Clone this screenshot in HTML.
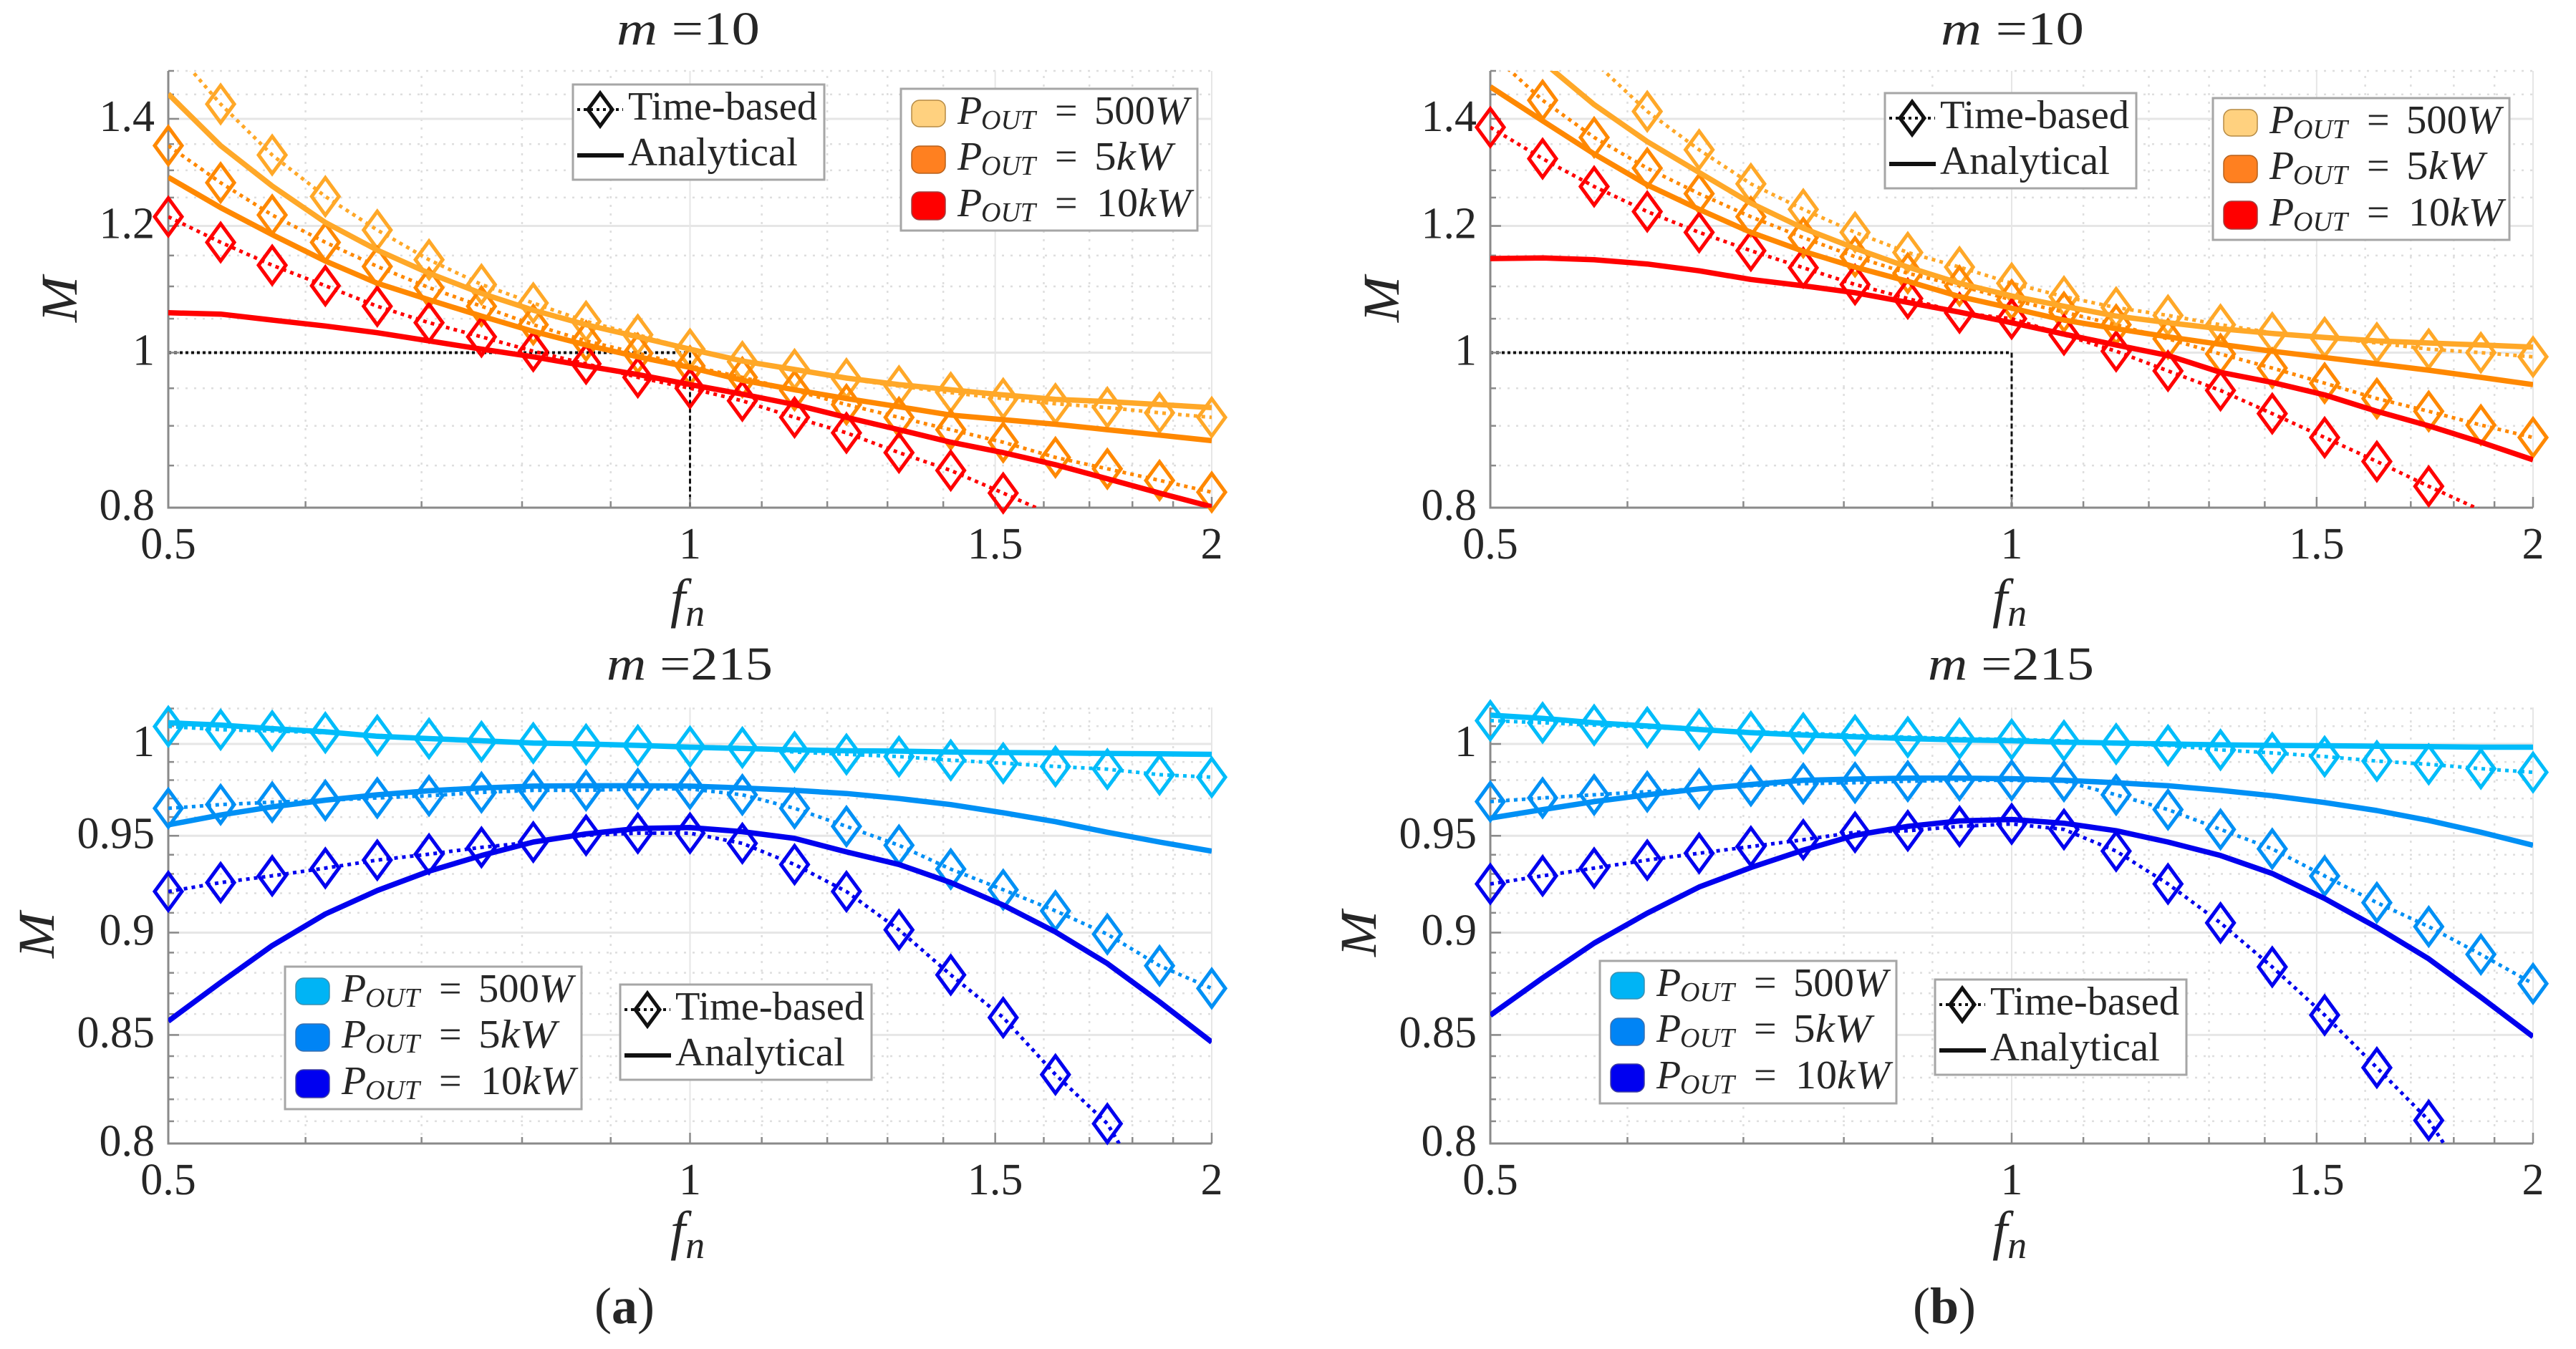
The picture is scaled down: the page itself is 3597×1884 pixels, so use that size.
<!DOCTYPE html>
<html lang="en">
<head>
<meta charset="utf-8">
<title>Voltage gain M versus normalized frequency</title>
<style>
html,body{margin:0;padding:0;background:#fff;}
svg{display:block;}
text{font-family:"Liberation Serif",serif;fill:#262626;}
.it{font-style:italic;}
.tick{font-size:62px;}
.lg{font-size:56px;}
.sub{font-size:38px;font-style:italic;}
</style>
</head>
<body>
<svg id="chart" xmlns="http://www.w3.org/2000/svg" width="3597" height="1884" viewBox="0 0 3597 1884">
<rect width="3597" height="1884" fill="#fff"/>
<g id="plots"></g>

<text x="961" y="62" font-size="66" text-anchor="middle" textLength="200" lengthAdjust="spacingAndGlyphs"><tspan class="it">m</tspan> =10</text>
<text x="2810" y="62" font-size="66" text-anchor="middle" textLength="200" lengthAdjust="spacingAndGlyphs"><tspan class="it">m</tspan> =10</text>
<text x="963" y="949" font-size="66" text-anchor="middle" textLength="232" lengthAdjust="spacingAndGlyphs"><tspan class="it">m</tspan> =215</text>
<text x="2808" y="949" font-size="66" text-anchor="middle" textLength="232" lengthAdjust="spacingAndGlyphs"><tspan class="it">m</tspan> =215</text>

<text x="936" y="861" font-size="76" class="it">f<tspan font-size="54" dy="13">n</tspan></text>
<text x="2782" y="861" font-size="76" class="it">f<tspan font-size="54" dy="13">n</tspan></text>
<text x="936" y="1744" font-size="76" class="it">f<tspan font-size="54" dy="13">n</tspan></text>
<text x="2782" y="1744" font-size="76" class="it">f<tspan font-size="54" dy="13">n</tspan></text>

<text transform="translate(107,418) rotate(-90)" font-size="72" class="it" text-anchor="middle" textLength="64" lengthAdjust="spacingAndGlyphs">M</text>
<text transform="translate(1953,418) rotate(-90)" font-size="72" class="it" text-anchor="middle" textLength="64" lengthAdjust="spacingAndGlyphs">M</text>
<text transform="translate(75,1306) rotate(-90)" font-size="72" class="it" text-anchor="middle" textLength="64" lengthAdjust="spacingAndGlyphs">M</text>
<text transform="translate(1921,1304) rotate(-90)" font-size="72" class="it" text-anchor="middle" textLength="64" lengthAdjust="spacingAndGlyphs">M</text>

<!-- legends a-top -->
<g transform="translate(800,118)">
  <rect width="351" height="133" fill="#fff" stroke="#a6a6a6" stroke-width="3"/>
  <line x1="6" x2="70" y1="35" y2="35" stroke="#111" stroke-width="4" stroke-dasharray="4 5"/>
  <path d="M38 12L55 35L38 58L21 35Z" fill="none" stroke="#111" stroke-width="5"/>
  <text class="lg" x="77" y="49" textLength="264" lengthAdjust="spacingAndGlyphs">Time-based</text>
  <line x1="6" x2="71" y1="99" y2="99" stroke="#111" stroke-width="6"/>
  <text class="lg" x="77" y="113" textLength="237" lengthAdjust="spacingAndGlyphs">Analytical</text>
</g>
<g transform="translate(1258,124)">
  <rect width="414" height="198" fill="#fff" stroke="#a6a6a6" stroke-width="3"/>
  <rect x="15" y="16" width="47" height="37" rx="11" fill="#ffd17f" stroke="#b58a44" stroke-width="1.5"/>
  <rect x="15" y="80" width="47" height="38" rx="11" fill="#ff8020" stroke="#b5601c" stroke-width="1.5"/>
  <rect x="15" y="144" width="47" height="39" rx="11" fill="#ff0000" stroke="#a04040" stroke-width="1.5"/>
  <text class="lg" y="49"><tspan class="it" x="79">P</tspan><tspan class="sub" x="112" dy="7">OUT</tspan><tspan x="215" dy="-7">=</tspan></text><text class="lg" x="270" y="49" textLength="132" lengthAdjust="spacingAndGlyphs">500<tspan class="it">W</tspan></text>
  <text class="lg" y="113"><tspan class="it" x="79">P</tspan><tspan class="sub" x="112" dy="7">OUT</tspan><tspan x="215" dy="-7">=</tspan></text><text class="lg" x="270" y="113" textLength="109" lengthAdjust="spacingAndGlyphs">5<tspan class="it">kW</tspan></text>
  <text class="lg" y="178"><tspan class="it" x="79">P</tspan><tspan class="sub" x="112" dy="7">OUT</tspan><tspan x="215" dy="-7">=</tspan></text><text class="lg" x="273" y="178" textLength="132" lengthAdjust="spacingAndGlyphs">10<tspan class="it">kW</tspan></text>
</g>

<!-- legends b-top -->
<g transform="translate(2632,130)">
  <rect width="351" height="133" fill="#fff" stroke="#a6a6a6" stroke-width="3"/>
  <line x1="6" x2="70" y1="35" y2="35" stroke="#111" stroke-width="4" stroke-dasharray="4 5"/>
  <path d="M38 12L55 35L38 58L21 35Z" fill="none" stroke="#111" stroke-width="5"/>
  <text class="lg" x="77" y="49" textLength="264" lengthAdjust="spacingAndGlyphs">Time-based</text>
  <line x1="6" x2="71" y1="99" y2="99" stroke="#111" stroke-width="6"/>
  <text class="lg" x="77" y="113" textLength="237" lengthAdjust="spacingAndGlyphs">Analytical</text>
</g>
<g transform="translate(3090,137)">
  <rect width="414" height="198" fill="#fff" stroke="#a6a6a6" stroke-width="3"/>
  <rect x="15" y="16" width="47" height="37" rx="11" fill="#ffd17f" stroke="#b58a44" stroke-width="1.5"/>
  <rect x="15" y="80" width="47" height="38" rx="11" fill="#ff8020" stroke="#b5601c" stroke-width="1.5"/>
  <rect x="15" y="144" width="47" height="39" rx="11" fill="#ff0000" stroke="#a04040" stroke-width="1.5"/>
  <text class="lg" y="49"><tspan class="it" x="79">P</tspan><tspan class="sub" x="112" dy="7">OUT</tspan><tspan x="215" dy="-7">=</tspan></text><text class="lg" x="270" y="49" textLength="132" lengthAdjust="spacingAndGlyphs">500<tspan class="it">W</tspan></text>
  <text class="lg" y="113"><tspan class="it" x="79">P</tspan><tspan class="sub" x="112" dy="7">OUT</tspan><tspan x="215" dy="-7">=</tspan></text><text class="lg" x="270" y="113" textLength="109" lengthAdjust="spacingAndGlyphs">5<tspan class="it">kW</tspan></text>
  <text class="lg" y="178"><tspan class="it" x="79">P</tspan><tspan class="sub" x="112" dy="7">OUT</tspan><tspan x="215" dy="-7">=</tspan></text><text class="lg" x="273" y="178" textLength="132" lengthAdjust="spacingAndGlyphs">10<tspan class="it">kW</tspan></text>
</g>

<!-- legends a-bottom -->
<g transform="translate(866,1375)">
  <rect width="351" height="133" fill="#fff" stroke="#a6a6a6" stroke-width="3"/>
  <line x1="6" x2="70" y1="35" y2="35" stroke="#111" stroke-width="4" stroke-dasharray="4 5"/>
  <path d="M38 12L55 35L38 58L21 35Z" fill="none" stroke="#111" stroke-width="5"/>
  <text class="lg" x="77" y="49" textLength="264" lengthAdjust="spacingAndGlyphs">Time-based</text>
  <line x1="6" x2="71" y1="99" y2="99" stroke="#111" stroke-width="6"/>
  <text class="lg" x="77" y="113" textLength="237" lengthAdjust="spacingAndGlyphs">Analytical</text>
</g>
<g transform="translate(398,1350)">
  <rect width="414" height="199" fill="#fff" stroke="#a6a6a6" stroke-width="3"/>
  <rect x="15" y="16" width="47" height="37" rx="11" fill="#00b4f5" stroke="#3a8fb0" stroke-width="1.5"/>
  <rect x="15" y="80" width="47" height="38" rx="11" fill="#0084f5" stroke="#3a70b0" stroke-width="1.5"/>
  <rect x="15" y="144" width="47" height="39" rx="11" fill="#0000f0" stroke="#4040a0" stroke-width="1.5"/>
  <text class="lg" y="49"><tspan class="it" x="79">P</tspan><tspan class="sub" x="112" dy="7">OUT</tspan><tspan x="215" dy="-7">=</tspan></text><text class="lg" x="270" y="49" textLength="132" lengthAdjust="spacingAndGlyphs">500<tspan class="it">W</tspan></text>
  <text class="lg" y="113"><tspan class="it" x="79">P</tspan><tspan class="sub" x="112" dy="7">OUT</tspan><tspan x="215" dy="-7">=</tspan></text><text class="lg" x="270" y="113" textLength="109" lengthAdjust="spacingAndGlyphs">5<tspan class="it">kW</tspan></text>
  <text class="lg" y="178"><tspan class="it" x="79">P</tspan><tspan class="sub" x="112" dy="7">OUT</tspan><tspan x="215" dy="-7">=</tspan></text><text class="lg" x="273" y="178" textLength="132" lengthAdjust="spacingAndGlyphs">10<tspan class="it">kW</tspan></text>
</g>

<!-- legends b-bottom -->
<g transform="translate(2702,1368)">
  <rect width="351" height="133" fill="#fff" stroke="#a6a6a6" stroke-width="3"/>
  <line x1="6" x2="70" y1="35" y2="35" stroke="#111" stroke-width="4" stroke-dasharray="4 5"/>
  <path d="M38 12L55 35L38 58L21 35Z" fill="none" stroke="#111" stroke-width="5"/>
  <text class="lg" x="77" y="49" textLength="264" lengthAdjust="spacingAndGlyphs">Time-based</text>
  <line x1="6" x2="71" y1="99" y2="99" stroke="#111" stroke-width="6"/>
  <text class="lg" x="77" y="113" textLength="237" lengthAdjust="spacingAndGlyphs">Analytical</text>
</g>
<g transform="translate(2234,1342)">
  <rect width="414" height="199" fill="#fff" stroke="#a6a6a6" stroke-width="3"/>
  <rect x="15" y="16" width="47" height="37" rx="11" fill="#00b4f5" stroke="#3a8fb0" stroke-width="1.5"/>
  <rect x="15" y="80" width="47" height="38" rx="11" fill="#0084f5" stroke="#3a70b0" stroke-width="1.5"/>
  <rect x="15" y="144" width="47" height="39" rx="11" fill="#0000f0" stroke="#4040a0" stroke-width="1.5"/>
  <text class="lg" y="49"><tspan class="it" x="79">P</tspan><tspan class="sub" x="112" dy="7">OUT</tspan><tspan x="215" dy="-7">=</tspan></text><text class="lg" x="270" y="49" textLength="132" lengthAdjust="spacingAndGlyphs">500<tspan class="it">W</tspan></text>
  <text class="lg" y="113"><tspan class="it" x="79">P</tspan><tspan class="sub" x="112" dy="7">OUT</tspan><tspan x="215" dy="-7">=</tspan></text><text class="lg" x="270" y="113" textLength="109" lengthAdjust="spacingAndGlyphs">5<tspan class="it">kW</tspan></text>
  <text class="lg" y="178"><tspan class="it" x="79">P</tspan><tspan class="sub" x="112" dy="7">OUT</tspan><tspan x="215" dy="-7">=</tspan></text><text class="lg" x="273" y="178" textLength="132" lengthAdjust="spacingAndGlyphs">10<tspan class="it">kW</tspan></text>
</g>

<text x="872" y="1848" font-size="72" text-anchor="middle">(<tspan font-weight="bold">a</tspan>)</text>
<text x="2715" y="1848" font-size="72" text-anchor="middle">(<tspan font-weight="bold">b</tspan>)</text>
</svg>

<script>
// Shared axes data
const fnSamples = [0.5,0.536,0.574,0.616,0.66,0.707,0.758,0.812,0.871,0.933,1,1.072,1.149,1.231,1.32,1.414,1.516,1.625,1.741,1.866,2];
const xTickValues = [0.5,1,1.5,2];
const xTickLabels = ['0.5','1','1.5','2'];
const xMinorValues = [0.6,0.7,0.8,0.9,1.1,1.2,1.3,1.4,1.6,1.7,1.8,1.9];
const yTickValuesM10 = [0.8,1,1.2,1.4];
const yTickLabelsM10 = ['0.8','1','1.2','1.4'];
const yMinorValuesM10 = [0.85,0.9,0.95,1.05,1.1,1.15,1.25,1.3,1.35,1.45,1.5];
const yTickValuesM215 = [0.8,0.85,0.9,0.95,1];
const yTickLabelsM215 = ['0.8','0.85','0.9','0.95','1'];
const yMinorValuesM215 = [0.81,0.82,0.83,0.84,0.86,0.87,0.88,0.89,0.91,0.92,0.93,0.94,0.96,0.97,0.98,0.99,1.01,1.02];
const guideFn = [0.5,1,1];
const guideM = [1,1,0.8];

// (a) m=10
const aTopTime500 = [1.56,1.43,1.329,1.252,1.193,1.143,1.103,1.074,1.046,1.026,1.005,0.987,0.976,0.963,0.953,0.944,0.936,0.929,0.924,0.917,0.911];
const aTopTime5k = [1.347,1.277,1.219,1.172,1.132,1.098,1.069,1.041,1.017,0.999,0.981,0.965,0.947,0.928,0.911,0.895,0.879,0.86,0.846,0.832,0.818];
const aTopTime10k = [1.216,1.172,1.134,1.101,1.069,1.044,1.023,1.002,0.984,0.965,0.95,0.933,0.911,0.891,0.866,0.844,0.817,0.79,0.76,0.73,0.7];
const aTopAna500 = [1.451,1.347,1.271,1.206,1.159,1.121,1.089,1.063,1.041,1.023,1.005,0.988,0.976,0.964,0.955,0.948,0.941,0.935,0.932,0.928,0.924];
const aTopAna5k = [1.287,1.232,1.185,1.141,1.105,1.079,1.054,1.031,1.011,0.994,0.979,0.961,0.948,0.936,0.925,0.914,0.908,0.902,0.895,0.888,0.881];
const aTopAna10k = [1.059,1.057,1.048,1.039,1.029,1.017,1.005,0.994,0.981,0.969,0.955,0.942,0.928,0.911,0.895,0.879,0.866,0.851,0.834,0.817,0.801];

// (b) m=10
const bTopTime500 = [1.71,1.61,1.52,1.415,1.339,1.275,1.229,1.189,1.155,1.131,1.105,1.084,1.067,1.055,1.041,1.029,1.022,1.014,1.005,1,0.994];
const bTopTime5k = [1.54,1.438,1.363,1.304,1.257,1.216,1.18,1.148,1.121,1.101,1.079,1.06,1.041,1.02,0.998,0.978,0.957,0.936,0.919,0.901,0.885];
const bTopTime10k = [1.383,1.322,1.27,1.225,1.189,1.158,1.13,1.103,1.081,1.059,1.05,1.026,1.002,0.974,0.947,0.916,0.885,0.855,0.825,0.797,0.77];
const bTopAna500 = [1.63,1.52,1.429,1.355,1.296,1.24,1.196,1.162,1.131,1.105,1.085,1.069,1.054,1.044,1.035,1.028,1.022,1.017,1.014,1.011,1.008];
const bTopAna5k = [1.466,1.396,1.331,1.273,1.229,1.189,1.157,1.131,1.108,1.084,1.066,1.048,1.035,1.023,1.012,1.002,0.993,0.984,0.975,0.965,0.955];
const bTopAna10k = [1.145,1.146,1.143,1.136,1.125,1.111,1.101,1.09,1.075,1.06,1.044,1.027,1.011,0.996,0.972,0.958,0.941,0.919,0.9,0.879,0.857];

// (a) m=215
const aBotTime500 = [1.0098,1.008,1.0073,1.0063,1.0048,1.003,1.0013,1.0005,0.9997,0.9992,0.9985,0.998,0.9955,0.9942,0.993,0.991,0.9893,0.9875,0.986,0.983,0.9816];
const aBotTime5k = [0.9647,0.9667,0.968,0.969,0.9703,0.9715,0.9733,0.9744,0.9744,0.9752,0.9752,0.972,0.9647,0.955,0.945,0.9325,0.9218,0.911,0.8992,0.8835,0.8724];
const aBotTime10k = [0.9209,0.9255,0.929,0.933,0.9372,0.9403,0.9439,0.9467,0.9503,0.9514,0.9514,0.946,0.9349,0.9209,0.9014,0.879,0.8583,0.8314,0.8089,0.77,0.73];
const aBotAna500 = [1.0119,1.0106,1.0086,1.0068,1.0043,1.003,1.0018,1.0005,1,0.9992,0.9982,0.9975,0.9967,0.9962,0.996,0.9955,0.9952,0.995,0.9947,0.9945,0.9942];
const aBotAna5k = [0.9558,0.9611,0.9655,0.9691,0.972,0.9742,0.9757,0.9767,0.9769,0.9769,0.9767,0.9757,0.9744,0.9727,0.97,0.9667,0.9623,0.9575,0.9519,0.9467,0.9419];
const aBotAna10k = [0.8566,0.8753,0.8935,0.9094,0.9214,0.9314,0.9396,0.9467,0.951,0.9539,0.9544,0.9522,0.9486,0.9415,0.9349,0.9255,0.9139,0.9003,0.8846,0.8659,0.8466];

// (b) m=215
const bBotTime500 = [1.0131,1.0119,1.0106,1.0093,1.0081,1.0068,1.006,1.0048,1.0038,1.003,1.0025,1.0018,1,0.9992,0.9967,0.995,0.993,0.9905,0.9887,0.9863,0.9843];
const bBotTime5k = [0.9683,0.9703,0.972,0.9737,0.9752,0.9769,0.9781,0.9786,0.9794,0.9799,0.9799,0.9794,0.972,0.964,0.9534,0.9431,0.9289,0.9152,0.903,0.8891,0.8747];
const bBotTime10k = [0.9248,0.929,0.933,0.9372,0.9408,0.9443,0.9479,0.9519,0.9527,0.955,0.9563,0.9534,0.9419,0.9248,0.9049,0.8829,0.8595,0.8346,0.8104,0.775,0.74];
const bBotAna500 = [1.0162,1.0144,1.0119,1.0101,1.0081,1.0063,1.005,1.004,1.003,1.0023,1.0018,1.001,1.0005,1,0.9995,0.9992,0.999,0.9987,0.9985,0.9982,0.9982];
const bBotAna5k = [0.9594,0.964,0.9683,0.972,0.9752,0.9776,0.9799,0.9806,0.9811,0.9811,0.9808,0.9799,0.9786,0.9769,0.9744,0.9715,0.9678,0.9635,0.9582,0.9519,0.945];
const bBotAna10k = [0.8594,0.8775,0.8947,0.9098,0.9232,0.9333,0.9424,0.9503,0.955,0.9579,0.9587,0.9567,0.9527,0.9467,0.9396,0.9302,0.9173,0.9026,0.8869,0.8681,0.8492];

const warmColors = ['#ffa828','#ff8800','#ff0000'];
const coolColors = ['#00bcfa','#0090f5','#0000ee'];
const powerNames = ['500w','5kw','10kw'];

const panels = [
  {id:'a-top',x0:235,x1:1692,y0:709,y1:99,yMin:0.8,yMax:1.5,ticks:yTickValuesM10,labels:yTickLabelsM10,minor:yMinorValuesM10,colors:warmColors,guide:true,
   time:[aTopTime500,aTopTime5k,aTopTime10k],ana:[aTopAna500,aTopAna5k,aTopAna10k]},
  {id:'b-top',x0:2081,x1:3537,y0:709,y1:99,yMin:0.8,yMax:1.5,ticks:yTickValuesM10,labels:yTickLabelsM10,minor:yMinorValuesM10,colors:warmColors,guide:true,
   time:[bTopTime500,bTopTime5k,bTopTime10k],ana:[bTopAna500,bTopAna5k,bTopAna10k]},
  {id:'a-bottom',x0:235,x1:1692,y0:1597,y1:988,yMin:0.8,yMax:1.0206,ticks:yTickValuesM215,labels:yTickLabelsM215,minor:yMinorValuesM215,colors:coolColors,guide:false,
   time:[aBotTime500,aBotTime5k,aBotTime10k],ana:[aBotAna500,aBotAna5k,aBotAna10k]},
  {id:'b-bottom',x0:2081,x1:3537,y0:1597,y1:988,yMin:0.8,yMax:1.0206,ticks:yTickValuesM215,labels:yTickLabelsM215,minor:yMinorValuesM215,colors:coolColors,guide:false,
   time:[bBotTime500,bBotTime5k,bBotTime10k],ana:[bBotAna500,bBotAna5k,bBotAna10k]}
];

const NS = 'http://www.w3.org/2000/svg';
const root = document.getElementById('plots');
function mk(parent, tag, props) {
  const el = document.createElementNS(NS, tag);
  for (const k in props) el.setAttribute(k, props[k]);
  parent.appendChild(el);
  return el;
}
function xScale(p, v) {
  return p.x0 + (p.x1 - p.x0) * Math.log(v / 0.5) / Math.log(2 / 0.5);
}
function yScale(p, v) {
  return p.y0 + (p.y1 - p.y0) * Math.log(v / p.yMin) / Math.log(p.yMax / p.yMin);
}

panels.forEach(function (p) {
  const g = mk(root, 'g', {});
  
  

  const clip = mk(g, 'clipPath', {id: 'clip-' + p.id});
  mk(clip, 'rect', {x: p.x0, y: p.y1, width: p.x1 - p.x0, height: p.y0 - p.y1});

  // grid
  const grid = mk(g, 'g', {});
  
  
  p.minor.forEach(function (v) {
    const y = yScale(p, v);
    mk(grid, 'line', {x1: p.x0, x2: p.x1, y1: y, y2: y, stroke: '#dedede', 'stroke-width': 2.5, 'stroke-dasharray': '3 9'});
  });
  xMinorValues.forEach(function (v) {
    const x = xScale(p, v);
    mk(grid, 'line', {x1: x, x2: x, y1: p.y0, y2: p.y1, stroke: '#dedede', 'stroke-width': 2.5, 'stroke-dasharray': '3 9'});
  });
  p.ticks.forEach(function (v) {
    const y = yScale(p, v);
    mk(grid, 'line', {x1: p.x0, x2: p.x1, y1: y, y2: y, stroke: '#e6e6e6', 'stroke-width': 3});
  });
  xTickValues.forEach(function (v) {
    const x = xScale(p, v);
    mk(grid, 'line', {x1: x, x2: x, y1: p.y0, y2: p.y1, stroke: '#e6e6e6', 'stroke-width': 2});
  });

  // guide lines
  if (p.guide) {
    const hLine = mk(g, 'line', {x1: xScale(p, guideFn[0]), x2: xScale(p, guideFn[1]), y1: yScale(p, guideM[0]), y2: yScale(p, guideM[1]), stroke: '#111', 'stroke-width': 4, 'stroke-dasharray': '4 4'});
    
    
    const vLine = mk(g, 'line', {x1: xScale(p, guideFn[1]), x2: xScale(p, guideFn[2]), y1: yScale(p, guideM[1]), y2: yScale(p, guideM[2]), stroke: '#111', 'stroke-width': 3, 'stroke-dasharray': '7 4'});
    
    
  }

  // axes
  const axes = mk(g, 'g', {});
  
  
  mk(axes, 'line', {x1: p.x0, x2: p.x0, y1: p.y1, y2: p.y0 + 1.5, stroke: '#8a8a8a', 'stroke-width': 3});
  mk(axes, 'line', {x1: p.x0, x2: p.x1, y1: p.y0, y2: p.y0, stroke: '#8a8a8a', 'stroke-width': 3});
  p.ticks.forEach(function (v, i) {
    const y = yScale(p, v);
    mk(axes, 'line', {x1: p.x0, x2: p.x0 + 15, y1: y, y2: y, stroke: '#8a8a8a', 'stroke-width': 2.5});
    const t = mk(axes, 'text', {x: p.x0 - 19, y: y + 17, 'text-anchor': 'end', class: 'tick'});
    t.textContent = p.labels[i];
    
    
  });
  p.minor.forEach(function (v) {
    const y = yScale(p, v);
    mk(axes, 'line', {x1: p.x0, x2: p.x0 + 8, y1: y, y2: y, stroke: '#8a8a8a', 'stroke-width': 2.5});
  });
  xMinorValues.forEach(function (v) {
    const x = xScale(p, v);
    mk(axes, 'line', {x1: x, x2: x, y1: p.y0, y2: p.y0 - 9, stroke: '#8a8a8a', 'stroke-width': 2.5});
  });
  xTickValues.forEach(function (v, i) {
    const x = xScale(p, v);
    mk(axes, 'line', {x1: x, x2: x, y1: p.y0, y2: p.y0 - 15, stroke: '#8a8a8a', 'stroke-width': 2.5});
    const t = mk(axes, 'text', {x: x, y: p.y0 + 71, 'text-anchor': 'middle', class: 'tick'});
    t.textContent = xTickLabels[i];
    
    
  });

  // series
  [0, 1, 2].forEach(function (s) {
    const color = p.colors[s];
    const values = p.time[s];
    const pts = fnSamples.map(function (f, i) { return xScale(p, f).toFixed(1) + ',' + yScale(p, values[i]).toFixed(1); }).join(' ');
    const dotted = mk(g, 'polyline', {points: pts, fill: 'none', stroke: color, 'stroke-width': 5, 'stroke-dasharray': '5 6', 'clip-path': 'url(#clip-' + p.id + ')'});
    
    
    values.forEach(function (v, i) {
      if (v < p.yMin || v > p.yMax) return;
      const cx = xScale(p, fnSamples[i]);
      const cy = yScale(p, v);
      const d = 'M' + cx + ' ' + (cy - 26) + 'L' + (cx + 19) + ' ' + cy + 'L' + cx + ' ' + (cy + 26) + 'L' + (cx - 19) + ' ' + cy + 'Z';
      const m = mk(g, 'path', {d: d, fill: 'none', stroke: color, 'stroke-width': 5});
      
      
    });
  });
  [0, 1, 2].forEach(function (s) {
    const values = p.ana[s];
    const pts = fnSamples.map(function (f, i) { return xScale(p, f).toFixed(1) + ',' + yScale(p, values[i]).toFixed(1); }).join(' ');
    const solid = mk(g, 'polyline', {points: pts, fill: 'none', stroke: p.colors[s], 'stroke-width': 7.5, 'stroke-linejoin': 'round', 'clip-path': 'url(#clip-' + p.id + ')'});
    
    
  });
});
</script>
</body>
</html>
